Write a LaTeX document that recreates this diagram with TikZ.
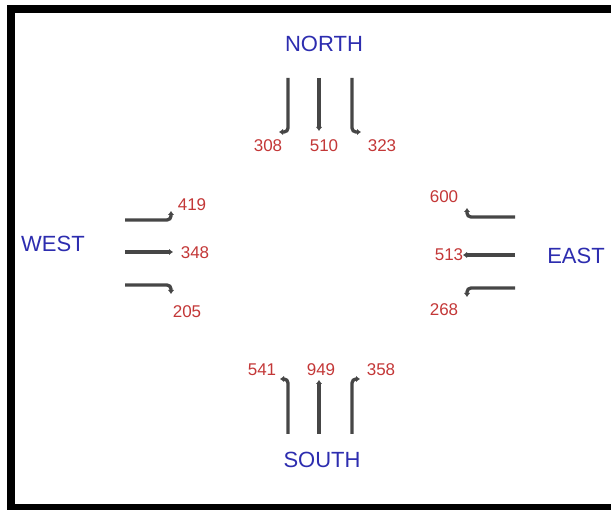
\documentclass[tikz,border=0pt]{standalone}
\usepackage{fontspec}
\setmainfont{Liberation Sans}
\usetikzlibrary{arrows.meta}
\definecolor{dirblue}{RGB}{45,45,175}
\definecolor{numred}{RGB}{195,55,55}
\definecolor{arrgray}{RGB}{70,70,70}
\begin{document}
\begin{tikzpicture}[x=1pt,y=-1pt,
  dirlabel/.style={text=dirblue,font=\fontsize{22}{22}\selectfont,inner sep=0pt},
  numlabel/.style={text=numred,font=\fontsize{17}{17}\selectfont,inner sep=0pt},
  flow/.style={draw=arrgray,line width=3.3pt,rounded corners=4pt,-{Latex[length=4pt,width=6.5pt]}}]
\useasboundingbox (0,0) rectangle (611,510);
% frame
\fill[black] (7,5) rectangle (611,13);
\fill[black] (7,5) rectangle (15,510);
\fill[black] (7,504) rectangle (611,510);
% direction names
\node[dirlabel] (north) at (324,44) {NORTH};
\node[dirlabel] (south) at (322,460) {SOUTH};
\node[dirlabel] (west) at (53,244) {WEST};
\node[dirlabel] (east) at (576,256) {EAST};
% north
\coordinate (nA) at (288,78); \coordinate (nA1) at (288,132); \coordinate (nA2) at (279,132);
\coordinate (nB) at (319,78); \coordinate (nB1) at (319,131);
\coordinate (nC) at (352,78); \coordinate (nC1) at (352,132); \coordinate (nC2) at (361,132);
\draw[flow] (nA) -- (nA1) -- (nA2);
\draw[flow] (nB) -- (nB1);
\draw[flow] (nC) -- (nC1) -- (nC2);
\node[numlabel] (n308) at (268,146) {308};
\node[numlabel] (n510) at (324,146) {510};
\node[numlabel] (n323) at (382,146) {323};
% west
\coordinate (wA) at (125,220); \coordinate (wA1) at (171,220); \coordinate (wA2) at (171,211);
\coordinate (wB) at (125,252); \coordinate (wB1) at (173,252);
\coordinate (wC) at (125,285); \coordinate (wC1) at (171,285); \coordinate (wC2) at (171,294);
\draw[flow] (wA) -- (wA1) -- (wA2);
\draw[flow] (wB) -- (wB1);
\draw[flow] (wC) -- (wC1) -- (wC2);
\node[numlabel] (w419) at (192,205) {419};
\node[numlabel] (w348) at (195,253) {348};
\node[numlabel] (w205) at (187,312) {205};
% east
\coordinate (eA) at (515,217); \coordinate (eA1) at (467,217); \coordinate (eA2) at (467,208);
\coordinate (eB) at (515,255); \coordinate (eB1) at (463,255);
\coordinate (eC) at (515,288); \coordinate (eC1) at (467,288); \coordinate (eC2) at (467,297);
\draw[flow] (eA) -- (eA1) -- (eA2);
\draw[flow] (eB) -- (eB1);
\draw[flow] (eC) -- (eC1) -- (eC2);
\node[numlabel] (e600) at (444,197) {600};
\node[numlabel] (e513) at (449,255) {513};
\node[numlabel] (e268) at (444,310) {268};
% south
\coordinate (sA) at (288,434); \coordinate (sA1) at (288,379); \coordinate (sA2) at (280,379);
\coordinate (sB) at (319,434); \coordinate (sB1) at (319,380);
\coordinate (sC) at (352,434); \coordinate (sC1) at (352,379); \coordinate (sC2) at (360,379);
\draw[flow] (sA) -- (sA1) -- (sA2);
\draw[flow] (sB) -- (sB1);
\draw[flow] (sC) -- (sC1) -- (sC2);
\node[numlabel] (s541) at (262,370) {541};
\node[numlabel] (s949) at (321,370) {949};
\node[numlabel] (s358) at (381,370) {358};
\end{tikzpicture}
\end{document}
